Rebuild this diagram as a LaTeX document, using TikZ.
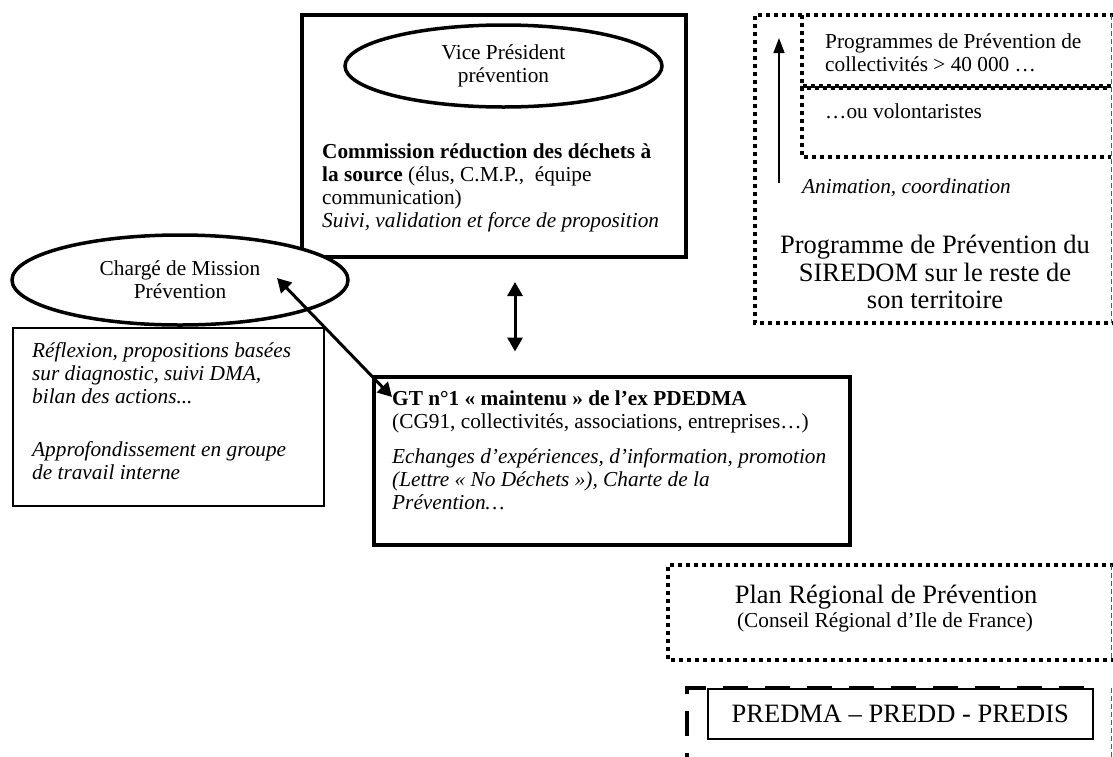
\documentclass[tikz,border=0pt]{standalone}
\usepackage{fontspec}
\setmainfont{Liberation Serif}
\usetikzlibrary{shapes.geometric,arrows.meta}
\newcommand\mainfs{\fontsize{21.3}{23}\selectfont}
\newcommand\bigfs{\fontsize{26.5}{27.6}\selectfont}
\begin{document}
\begin{tikzpicture}[x=1pt,y=-1pt,
  thickbox/.style={draw, line width=3.5pt, rectangle, inner sep=0pt, anchor=north west},
  thinbox/.style={draw, line width=1.5pt, rectangle, inner sep=0pt, anchor=north west},
  area/.style={rectangle, inner sep=0pt, outer sep=0pt, anchor=north west, draw=none},
  oval/.style={draw, fill=white, ellipse, line width=3.5pt, inner sep=0pt, align=center, font=\mainfs},
  dotline/.style={line width=4pt, dash pattern=on 4pt off 4pt},
  thindash/.style={line width=0.8pt, draw=black!65, dash pattern=on 5pt off 3pt},
  bigdash/.style={line width=4pt, dash pattern=on 25pt off 17pt},
  txt/.style={inner sep=0pt, anchor=north west, align=left, font=\mainfs},
  dblarrow/.style={line width=3pt, {Triangle[length=14pt,width=15pt]}-{Triangle[length=14pt,width=15pt]}},
  uparrow/.style={line width=1.5pt, -{Triangle[length=15pt,width=11pt]}},
]
\useasboundingbox (0,0) rectangle (1113,756);
\fill[white] (0,0) rectangle (1113,756);
\clip (0,0) rectangle (1113,756);

% solid boxes
\node[thickbox, minimum width=384pt, minimum height=242pt] (top) at (300,13) {};
\node[thickbox, minimum width=476pt, minimum height=168pt] (gt) at (372,375) {};
\node[thinbox, minimum width=311pt, minimum height=178pt] (reflbox) at (12,327) {};

% dotted areas on the right
\node[area, minimum width=356pt, minimum height=308pt] (sir) at (755,15) {};
\node[area, minimum width=309pt, minimum height=71pt] (pb1) at (802,15) {};
\node[area, minimum width=309pt, minimum height=69pt] (pb2) at (802,88) {};
\node[area, minimum width=443pt, minimum height=95pt] (planbox) at (668,565) {};
\node[area, minimum width=424pt, minimum height=90pt] (pre) at (687,688) {};

\draw[dotline] ([xshift=3pt]sir.north east) -- (sir.north west) -- (sir.south west) -- ([xshift=3pt]sir.south east);
\draw[thindash] (sir.north east) -- (sir.south east);
\draw[dotline] (pb1.north west) -- (pb1.south west) -- (pb1.south east);
\draw[dotline, dash phase=4pt] (pb2.north east) -- (pb2.north west) -- (pb2.south west) -- (pb2.south east);
\draw[dotline] ([xshift=3pt]planbox.north east) -- (planbox.north west) -- (planbox.south west) -- ([xshift=3pt]planbox.south east);
\draw[thindash] (planbox.north east) -- (planbox.south east);
\draw[bigdash] (pre.south west) -- (pre.north west) -- ([xshift=-14pt]pre.north east);
\draw[thindash] (pre.north east) -- (pre.south east);

% ellipses
\node[oval, minimum width=317pt, minimum height=82pt] (vp) at (503.5,66) {Vice Président\\prévention};
\node[oval, minimum width=336pt, minimum height=90pt] (cm) at (180,280) {Chargé de Mission\\Prévention};

% texts
\node[txt] (commission) at (322,142) {\strut\textbf{Commission réduction des déchets à}\\\textbf{la source} (élus, C.M.P.,\ \ équipe\\communication)\\\textit{Suivi, validation et force de proposition}};
\node[txt] (prog) at (825,32) {\strut Programmes de Prévention de\\collectivités > 40 000 …};
\node[txt] (volont) at (825,102) {\strut …ou volontaristes};
\node[txt, font=\mainfs\itshape] (anim) at (802,177) {\strut Animation, coordination};
\node[inner sep=0pt, anchor=north, align=center, font=\bigfs] (sirtxt) at (935,234) {\strut Programme de Prévention du\\SIREDOM sur le reste de\\son territoire};
\node[txt, font=\mainfs\itshape] (refl) at (32,341) {\strut Réflexion, propositions basées\\sur diagnostic, suivi DMA,\\bilan des actions...\\[30pt]Approfondissement en groupe\\de travail interne};
\node[txt] (gttxt) at (392,389) {\strut\textbf{GT n°1 « maintenu » de l’ex PDEDMA}\\(CG91, collectivités, associations, entreprises…)\\[12pt]\textit{Echanges d’expériences, d’information, promotion}\\\textit{(Lettre « No Déchets »), Charte de la}\\\textit{Prévention…}};
\node[inner sep=0pt, font=\bigfs] (plan) at (886,597) {Plan Régional de Prévention};
\node[inner sep=0pt, font=\mainfs] (plansub) at (885,622) {(Conseil Régional d’Ile de France)};
\node[thinbox, minimum width=385pt, minimum height=50pt, font=\bigfs, fill=white] (predma) at (707,688) {PREDMA – PREDD - PREDIS};

% connectors
\coordinate (cmTip) at (277,278);
\coordinate (gtTip) at (392,397);
\coordinate (vx) at (515,0);
\coordinate (upS) at (779,183);
\coordinate (upE) at (779,38);
\draw[dblarrow] (cmTip) -- (gtTip);
\draw[dblarrow, shorten <=23.5pt, shorten >=23.5pt] (top.south -| vx) -- (gt.north -| vx);
\draw[uparrow] (upS) -- (upE);
\end{tikzpicture}
\end{document}
